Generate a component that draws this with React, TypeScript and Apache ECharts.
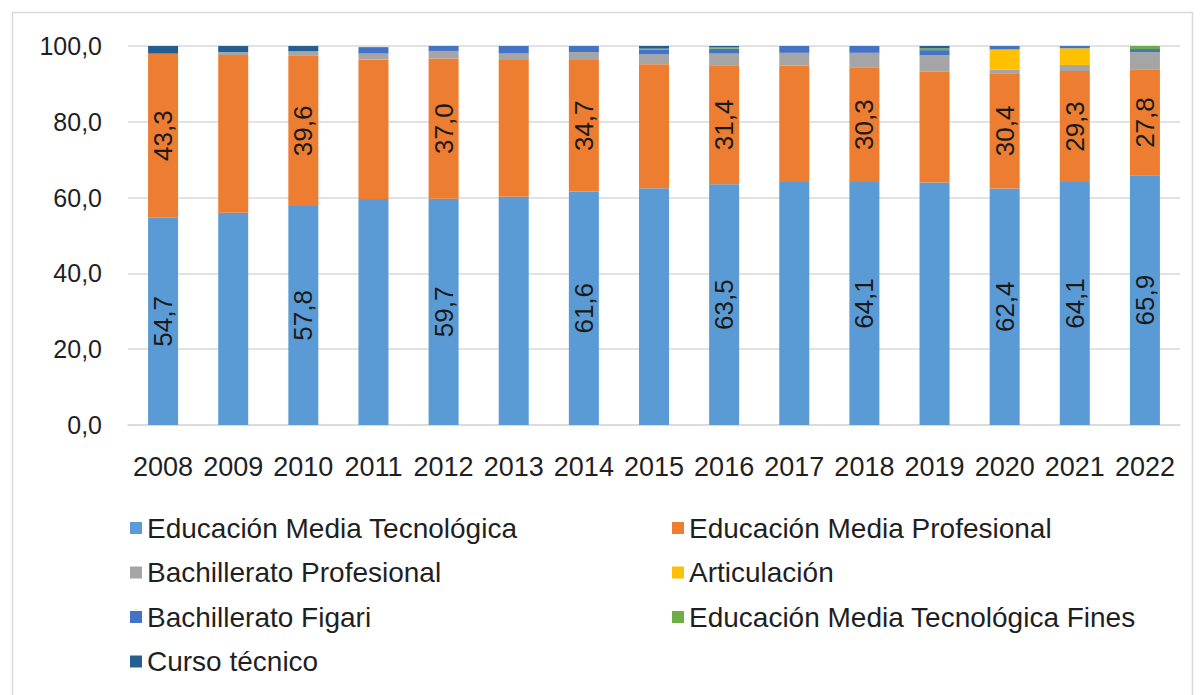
import React, { useEffect, useRef } from "react";
import * as echarts from "echarts";

const years = ["2008","2009","2010","2011","2012","2013","2014","2015","2016","2017","2018","2019","2020","2021","2022"];
const emt = [54.7, 56.0, 57.8, 59.6, 59.7, 60.2, 61.6, 62.5, 63.5, 64.1, 64.1, 64.0, 62.4, 64.1, 65.9];
const emp = [43.3, 41.6, 39.6, 36.8, 37.0, 36.1, 34.7, 32.7, 31.4, 30.7, 30.3, 29.2, 30.4, 29.3, 27.8];
const bachProf = [0.0, 0.8, 1.2, 1.6, 2.0, 1.7, 2.1, 2.6, 3.1, 3.4, 3.8, 4.4, 1.0, 1.6, 4.7];
const articulacion = [0, 0, 0, 0, 0, 0, 0, 0, 0, 0, 0, 0, 5.3, 4.4, 0];
const figari = [0, 0, 0, 1.7, 1.3, 2.0, 1.6, 1.2, 1.3, 1.8, 1.8, 1.3, 0.9, 0.6, 0.8];
const fines = [0, 0, 0, 0, 0, 0, 0, 0.3, 0.4, 0, 0, 0.5, 0, 0, 0.8];
const curso = [2.0, 1.6, 1.4, 0, 0, 0, 0, 0.7, 0.3, 0, 0, 0.6, 0, 0, 0];
const labeled = [true, false, true, false, true, false, true, false, true, false, true, false, true, true, true];
const yTicks = [0, 20, 40, 60, 80, 100];

const names = [
  "Educación Media Tecnológica",
  "Educación Media Profesional",
  "Bachillerato Profesional",
  "Articulación",
  "Bachillerato Figari",
  "Educación Media Tecnológica Fines",
  "Curso técnico",
];
const colors = ["#5b9bd5", "#ed7d31", "#a5a5a5", "#ffc000", "#4472c4", "#70ad47", "#255e91"];
const seriesValues = [emt, emp, bachProf, articulacion, figari, fines, curso];

const fmt = (v: number) => v.toFixed(1).replace(".", ",");

export default function App() {
  const ref = useRef<HTMLDivElement>(null);
  useEffect(() => {
    if (!ref.current) return;
    const chart = echarts.init(ref.current, undefined, { renderer: "svg" });
    const font = "Liberation Sans, Arial, sans-serif";
    const series = seriesValues.map((vals, si) => ({
      name: names[si],
      type: "bar",
      stack: "total",
      barWidth: 30,
      itemStyle: { color: colors[si] },
      data: vals.map((v, i) => ({
        value: v,
        label: { show: si < 2 && labeled[i] },
      })),
      label: {
        show: false,
        position: "inside",
        rotate: 90,
        fontSize: 26,
        fontFamily: font,
        color: "#1a1a1a",
        formatter: (p: any) => fmt(p.value),
      },
    }));
    const legendText = { fontSize: 28, color: "#1f1f1f", fontFamily: font, lineHeight: 30 };
    chart.setOption({
      animation: false,
      textStyle: { fontFamily: font },
      graphic: [
        {
          type: "rect",
          shape: { x: 12.5, y: 12.5, width: 1180, height: 690 },
          style: { fill: "none", stroke: "#d9d9d9", lineWidth: 1.5 },
          silent: true,
        },
      ],
      grid: { left: 128, right: 20, top: 46, bottom: 270 },
      xAxis: {
        type: "category",
        data: years,
        axisTick: { show: false },
        axisLine: { lineStyle: { color: "#d9d9d9", width: 1.5 } },
        axisLabel: { interval: 0, fontSize: 27, color: "#1f1f1f", margin: 28, fontFamily: font },
      },
      yAxis: {
        type: "value",
        min: 0,
        max: 100,
        interval: 20,
        axisLabel: {
          fontSize: 25,
          color: "#1f1f1f",
          margin: 26,
          fontFamily: font,
          formatter: (v: number) => (yTicks.includes(v) ? fmt(v) : ""),
        },
        axisLine: { show: false },
        axisTick: { show: false },
        splitLine: { lineStyle: { color: "#d9d9d9", width: 1.5 } },
      },
      legend: [
        {
          orient: "vertical",
          left: 125,
          top: 508,
          itemWidth: 12,
          itemHeight: 12,
          itemGap: 14.5,
          icon: "rect",
          data: [names[0], names[2], names[4], names[6]],
          textStyle: legendText,
        },
        {
          orient: "vertical",
          left: 667,
          top: 508,
          itemWidth: 12,
          itemHeight: 12,
          itemGap: 14.5,
          icon: "rect",
          data: [names[1], names[3], names[5]],
          textStyle: legendText,
        },
      ],
      series,
    });
    return () => chart.dispose();
  }, []);
  return (
    <div
      ref={ref}
      style={{ position: "fixed", left: 0, top: 0, width: 1200, height: 695, background: "#fff" }}
    />
  );
}
